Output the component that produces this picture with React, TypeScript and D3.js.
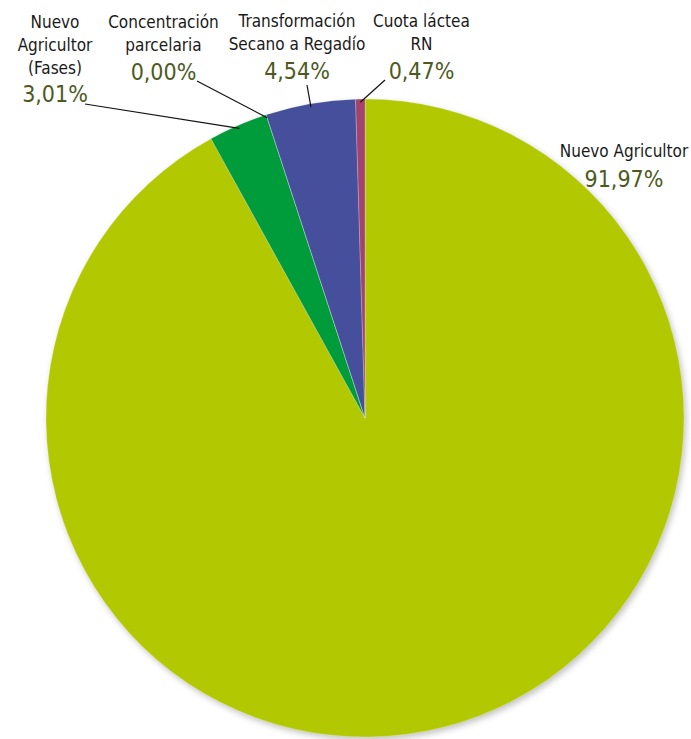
import React from "react";
import * as d3 from "d3";

const categories = [
  "Nuevo Agricultor",
  "Nuevo Agricultor (Fases)",
  "Concentración parcelaria",
  "Transformación Secano a Regadío",
  "Cuota láctea RN",
];
const values = [91.97, 3.01, 0.0, 4.54, 0.47];
const valueLabels = ["91,97%", "3,01%", "0,00%", "4,54%", "0,47%"];
const labelLines = [
  ["Nuevo Agricultor"],
  ["Nuevo", "Agricultor", "(Fases)"],
  ["Concentración", "parcelaria"],
  ["Transformación", "Secano a Regadío"],
  ["Cuota láctea", "RN"],
];
const colors = ["#b2c800", "#009b3a", "#454f9b", "#a3416f", "#a3416f"];
const sliceColors = ["#b2c800", "#009b3a", "#009b3a", "#454f9b", "#a3416f"];

// label layout (positions of label blocks)
const labelPos = [
  { x: 624, y: 157, leader: false },
  { x: 55, y: 28, leader: true },
  { x: 163.5, y: 28, leader: true },
  { x: 297, y: 27, leader: true },
  { x: 421.5, y: 27, leader: true },
];
// leader start offsets relative to percent label
const leaderStart = [
  null,
  { x: 85, y: 104 },
  { x: 197, y: 81 },
  { x: 307, y: 85 },
  { x: 385, y: 80 },
];

const W = 691;
const H = 739;
const cx = 365;
const cy = 418;
const R = 319;
const FONT = "'Liberation Sans Narrow', 'DejaVu Sans Condensed', 'Roboto Condensed', sans-serif";

export default function App() {
  const pie = d3.pie<number>().sort(null).value((d) => d)(values);
  const arc = d3.arc<d3.PieArcDatum<number>>().innerRadius(0).outerRadius(R);
  const lineH = 23;

  return (
    <svg
      width={W}
      height={H}
      style={{ position: "absolute", left: 0, top: 0, background: "#fff" }}
      fontFamily={FONT}
    >
      <defs>
        <filter id="sh" x="-10%" y="-10%" width="120%" height="120%">
          <feGaussianBlur stdDeviation="3" />
        </filter>
      </defs>
      <circle cx={cx + 2} cy={cy + 3} r={R} fill="#9a9a9a" opacity={0.6} filter="url(#sh)" />
      <g transform={`translate(${cx},${cy})`}>
        {pie.map((p, i) => (
          <path key={categories[i]} d={arc(p) || ""} fill={sliceColors[i]} stroke="#ffffff" strokeWidth={0.4} strokeOpacity={0.6} />
        ))}
      </g>
      {pie.map((p, i) => {
        const pos = labelPos[i];
        const lines = labelLines[i];
        const pctY = i === 0 ? pos.y + 30 : pos.y + lines.length * lineH + (i === 1 ? 5 : 6);
        const mid = (p.startAngle + p.endAngle) / 2;
        const ex = cx + R * 0.99 * Math.sin(mid);
        const ey = cy - R * 0.99 * Math.cos(mid);
        const ls = leaderStart[i];
        return (
          <g key={"lab" + i}>
            {lines.map((t, j) => (
              <text
                key={j}
                x={pos.x}
                y={pos.y + j * lineH}
                textAnchor="middle"
                fontSize={17}
                fill="#1a1a1a"
              >
                {t}
              </text>
            ))}
            <text x={pos.x} y={pctY} textAnchor="middle" fontSize={23} fill="#4d5a1e">
              {valueLabels[i]}
            </text>
            {pos.leader && ls && (
              <line x1={ls.x} y1={ls.y} x2={ex} y2={ey} stroke="#111" strokeWidth={1.2} />
            )}
          </g>
        );
      })}
    </svg>
  );
}
